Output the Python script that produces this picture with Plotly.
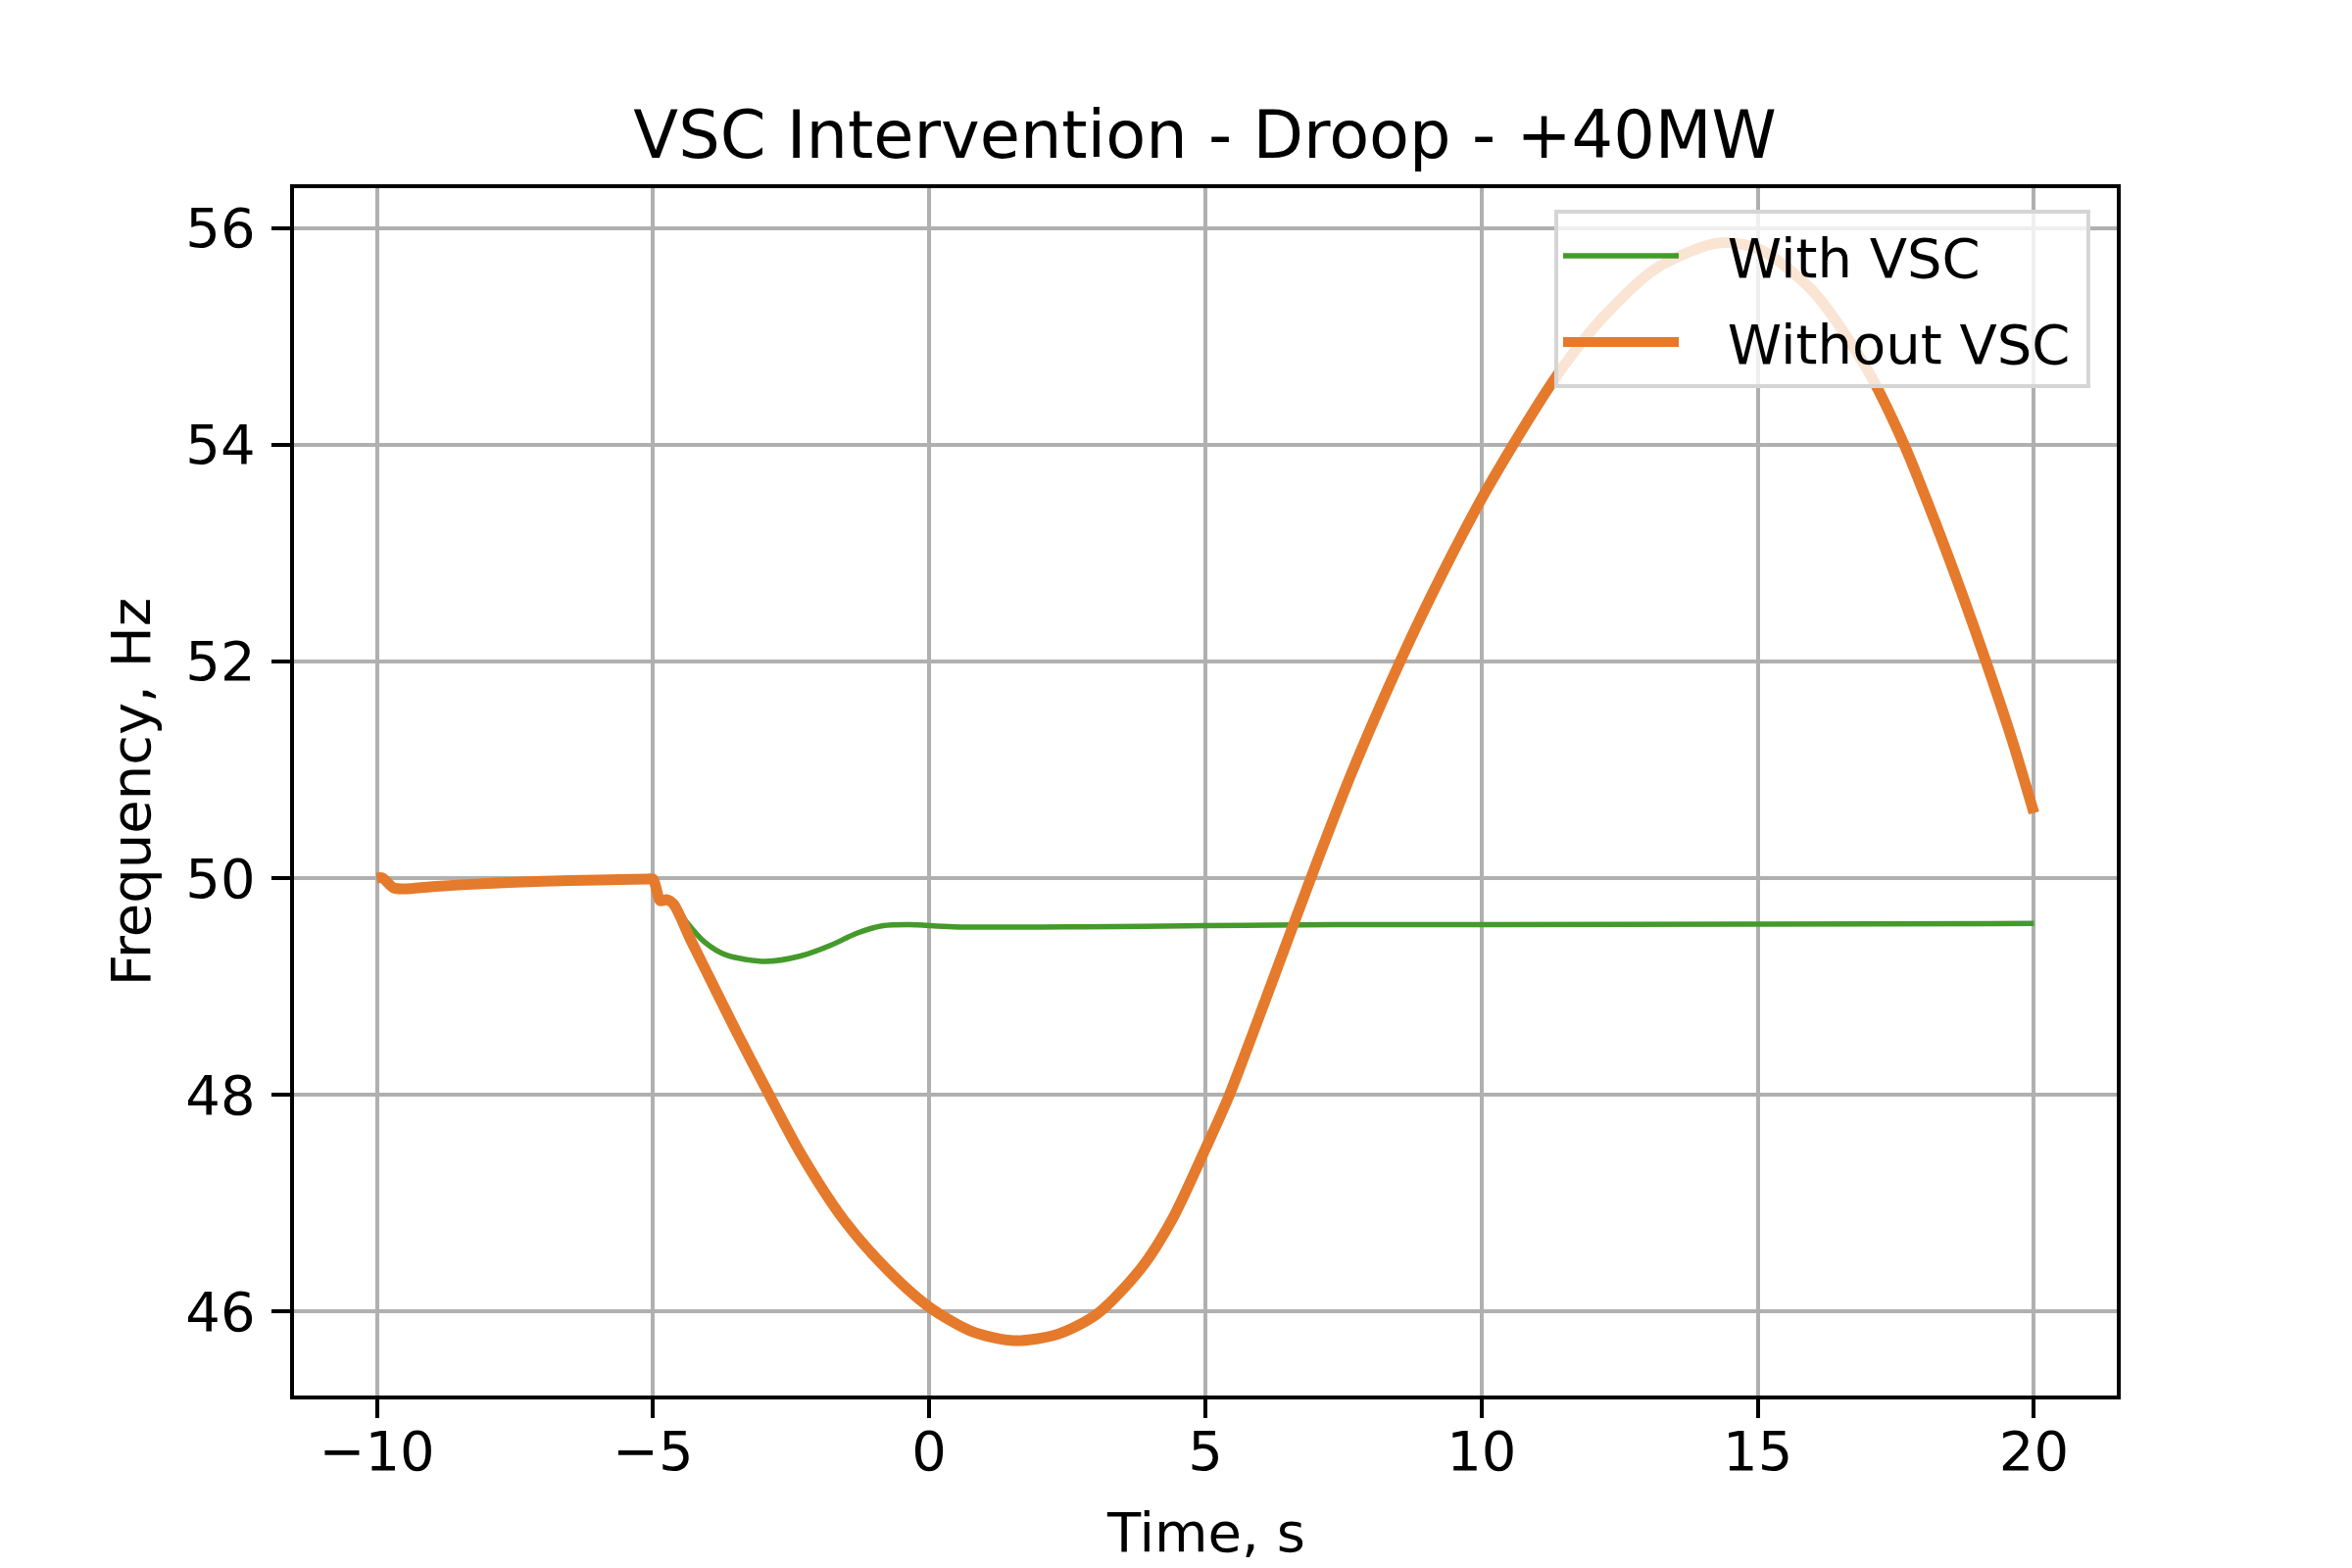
import plotly.graph_objects as go

# Frekvens utan VSC (läst från bilden)
t_without = [-10.0, -9.9, -9.7, -9.5, -9.0, -8.0, -7.0, -6.0, -5.1, -5.0,
             -4.87, -4.75, -4.63, -4.31, -3.92, -3.52, -2.97, -2.33, -1.54, -0.75,
             0.0, 0.75, 1.54, 2.33, 3.05, 3.84, 4.4, 5.0, 5.42, 6.12,
             6.91, 7.64, 8.59, 9.28, 10.0, 10.55, 11.25, 11.55, 12.19, 13.14,
             14.28, 15.04, 15.99, 16.95, 17.65, 18.2, 18.7, 19.15, 19.6, 20.0]
f_without = [50.0, 50.0, 49.91, 49.9, 49.92, 49.95, 49.97, 49.98, 49.99, 49.99,
             49.79, 49.8, 49.76, 49.42, 49.02, 48.61, 48.07, 47.46, 46.84, 46.38,
             46.04, 45.82, 45.73, 45.79, 45.98, 46.40, 46.85, 47.5, 47.98, 48.92,
             50.0, 50.96, 52.07, 52.8, 53.5, 53.98, 54.55, 54.77, 55.17, 55.62,
             55.86, 55.8, 55.42, 54.72, 54.0, 53.3, 52.62, 51.97, 51.28, 50.6]

# Frekvens med VSC
t_with = [-10.0, -9.9, -9.7, -9.5, -9.0, -8.0, -7.0, -6.0, -5.1, -5.0,
          -4.87, -4.75, -4.63, -4.39, -4.07, -3.68, -2.97, -2.33, -1.78, -1.31,
          -0.83, -0.36, 0.43, 2.81, 5.0, 7.3, 10.0, 15.0, 20.0]
f_with = [50.0, 50.0, 49.91, 49.9, 49.92, 49.95, 49.97, 49.98, 49.99, 49.99,
          49.79, 49.8, 49.76, 49.59, 49.41, 49.29, 49.23, 49.28, 49.38, 49.49,
          49.56, 49.57, 49.55, 49.55, 49.56, 49.57, 49.57, 49.575, 49.58]

x_ticks = [-10, -5, 0, 5, 10, 15, 20]
y_ticks = [46, 48, 50, 52, 54, 56]

green = "#449a2a"
orange = "#e57a2c"

# axelgränser som i matplotlib (5 % marginal)
x_lo, x_hi = min(t_with + t_without), max(t_with + t_without)
y_lo, y_hi = min(f_with + f_without), max(f_with + f_without)
x_pad = 0.05 * (x_hi - x_lo)
y_pad = 0.05 * (y_hi - y_lo)

gap = "\u2002\u2009\u200a"  # luft mellan linje och text i legenden
tail = "\u2009"              # lite luft till höger i legendrutan

fig = go.Figure()
fig.add_trace(go.Scatter(x=t_with, y=f_with, mode="lines", name=gap + "With VSC" + tail,
                         legendgroup="a",
                         line=dict(color=green, width=5.5, shape="spline", smoothing=0.8)))
fig.add_trace(go.Scatter(x=t_without, y=f_without, mode="lines", name=gap + "Without VSC" + tail,
                         legendgroup="b",
                         line=dict(color=orange, width=11, shape="spline", smoothing=0.8)))

# sidan har 8 px marginal i body, därför är marginalerna flyttade 8 px
font = "DejaVu Sans"
fig.update_layout(
    width=2400, height=1600,
    paper_bgcolor="white", plot_bgcolor="white",
    margin=dict(l=292, r=248, t=184, b=184),
    font=dict(family=font, size=56, color="black"),
    title=dict(text="VSC Intervention - Droop - +40MW", x=0.509, xanchor="center",
               y=0.919, yanchor="middle", font=dict(size=67)),
    legend=dict(x=0.9855, xanchor="right", y=0.982, yanchor="top",
                bgcolor="rgba(255,255,255,0.8)", bordercolor="#d5d5d5", borderwidth=4,
                font=dict(size=56), tracegroupgap=12, itemwidth=118),
    showlegend=True,
)
fig.update_xaxes(range=[x_lo - x_pad, x_hi + x_pad], tickvals=x_ticks,
                 ticktext=[str(v).replace("-", "\u2212") for v in x_ticks],
                 showgrid=True, gridcolor="#b0b0b0", gridwidth=4.4,
                 showline=True, linecolor="black", linewidth=4.4, mirror=True,
                 ticks="outside", ticklen=19, tickwidth=4.4, tickcolor="black",
                 ticklabelstandoff=-14, zeroline=False)
fig.update_yaxes(range=[y_lo - y_pad, y_hi + y_pad], tickvals=y_ticks,
                 showgrid=True, gridcolor="#b0b0b0", gridwidth=4.4,
                 showline=True, linecolor="black", linewidth=4.4, mirror=True,
                 ticks="outside", ticklen=19, tickwidth=4.4, tickcolor="black",
                 ticklabelstandoff=5, zeroline=False,
                 title=dict(text="Frequency, Hz", standoff=19, font=dict(size=56)))

# x-axelns titel som annotation för att kunna placera den exakt
fig.add_annotation(text="Time, s", xref="paper", yref="paper", x=0.5, y=-0.113,
                   xanchor="center", yanchor="middle", showarrow=False,
                   font=dict(size=56))

fig.write_html("out.html")
